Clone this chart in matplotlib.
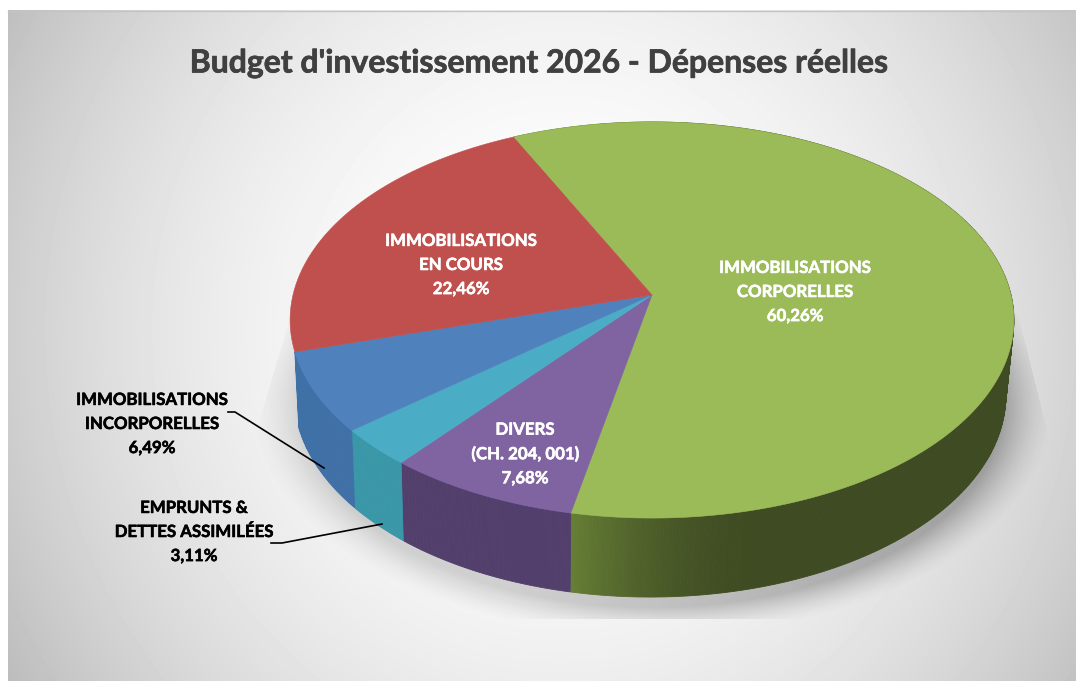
import numpy as np
import matplotlib
matplotlib.use('Agg')
import matplotlib.pyplot as plt
import matplotlib.patheffects as pe
from matplotlib.colors import to_rgb

plt.rcParams['font.family'] = ['Lato', 'DejaVu Sans']

title = "Budget d'investissement 2026 - Dépenses réelles"
names = ['IMMOBILISATIONS\nCORPORELLES', 'DIVERS\n(CH. 204, 001)', 'EMPRUNTS &\nDETTES ASSIMILÉES',
         'IMMOBILISATIONS\nINCORPORELLES', 'IMMOBILISATIONS\nEN COURS']
values = [60.26, 7.68, 3.11, 6.49, 22.46]
top_colors = ['#9bbb59', '#8064a2', '#4bacc6', '#4f81bd', '#c0504d']
side_colors = ['#3f4b22', '#523f6c', '#3a97a8', '#3f70a6', None]  # red side is hidden

W, H = 1076, 681
fig = plt.figure(figsize=(W / 100, H / 100), dpi=100, facecolor='white')
ax = fig.add_axes([0, 0, 1, 1])
ax.set_xlim(0, W)
ax.set_ylim(H, 0)
ax.axis('off')

# background
yy, xx = np.mgrid[10:H, 8:W]
t = ((xx - 560) / 530.0) ** 2 + ((yy - 330) / 560.0) ** 2
t = np.clip(t / 1.5, 0, 1)
bg = 255 - 68 * t
ax.imshow(bg, cmap='gray', vmin=0, vmax=255, extent=(8, W, H, 10), aspect='auto', zorder=0)
ax.plot([8, W], [10.5, 10.5], color='#c4c4c4', lw=1, zorder=1)

# shadow under the pie
yy, xx = np.mgrid[300:619, 240:1060]
d = np.sqrt(((xx - 652) / 402.0) ** 2 + ((yy - 405) / 232.0) ** 2)
alpha = np.clip((1 - d) / 0.13, 0, 1) ** 1.5 * (0.25 + 0.27 * np.clip((xx - 500) / 500.0, 0, 1))
alpha[xx > 1019 + (yy - 320) * 0.25] = 0
alpha[xx < 279 - (yy - 353) * 0.3] = 0
shadow = np.zeros(alpha.shape + (4,))
shadow[..., :3] = 0.38
shadow[..., 3] = alpha
ax.imshow(shadow, extent=(240, 1060, 619, 300), aspect='auto', zorder=1)
ax.set_xlim(0, W)
ax.set_ylim(H, 0)

# perspective of the disc
k = 0.1263


def top_xy(ang):
    u, v = np.sin(ang), np.cos(ang)
    w = 1 + k * v
    return 652 + 359 * u / w, 295 - 194.9 * v / w


def bottom_xy(ang):
    u, v = np.sin(ang), np.cos(ang)
    w = 1 + k * v
    return 650 + 353 * u / w, 369.5 - 198.8 * v / w


starts = np.radians(-25.5 + 3.6 * np.concatenate([[0], np.cumsum(values)[:-1]]))
ends = np.radians(-25.5 + 3.6 * np.cumsum(values))

# sides, cut in thin strips for the shading
for a0, a1, col, val in zip(starts, ends, side_colors, values):
    if col is None:
        continue
    n = int(val * 8)
    angs = np.linspace(a0, a1, n + 1)
    base = np.array(to_rgb(col))
    for i in range(n):
        x0, y0 = top_xy(angs[i])
        x1, y1 = top_xy(angs[i + 1])
        x2, y2 = bottom_xy(angs[i + 1])
        x3, y3 = bottom_xy(angs[i])
        xm = (x0 + x1) / 2
        c = base
        if col == '#3f4b22':
            f = np.clip((760 - xm) / 190.0, 0, 1)
            c = base + (np.array(to_rgb('#667f35')) - base) * f ** 1.8
        ax.fill([x0, x1, x2, x3], [y0, y1, y2, y3], color=c, lw=0.6, zorder=2)

# top faces
for a0, a1, col in zip(starts, ends, top_colors):
    angs = np.linspace(a0, a1, 200)
    xs, ys = top_xy(angs)
    ax.fill(np.r_[652, xs], np.r_[295, ys], color=col, lw=0.4, zorder=3)


def pct(v):
    return f'{v:.2f}'.replace('.', ',') + '%'


label_pos = [(795, 292), (525, 454), (194, 532), (152, 424), (461, 265)]
label_col = ['white', 'white', 'black', 'black', 'white']
for name, v, pos, col in zip(names, values, label_pos, label_col):
    ax.text(pos[0], pos[1], name + '\n' + pct(v), color=col, fontsize=12.1, fontweight='bold',
            ha='center', va='center', linespacing=1.62, zorder=5,
            path_effects=[pe.withStroke(linewidth=0.4, foreground=col)])

# leader lines
ax.plot([228, 235, 324], [412, 412, 468], color='black', lw=1.2, zorder=4)
ax.plot([271, 282, 382], [543, 543, 524], color='black', lw=1.2, zorder=4)

ax.text(539, 63, title, color='#404040', fontsize=23.0, fontweight='bold', ha='center', va='center', zorder=5,
        path_effects=[pe.withStroke(linewidth=0.5, foreground='#404040')])

fig.savefig('out.png', dpi=100, facecolor='white')
